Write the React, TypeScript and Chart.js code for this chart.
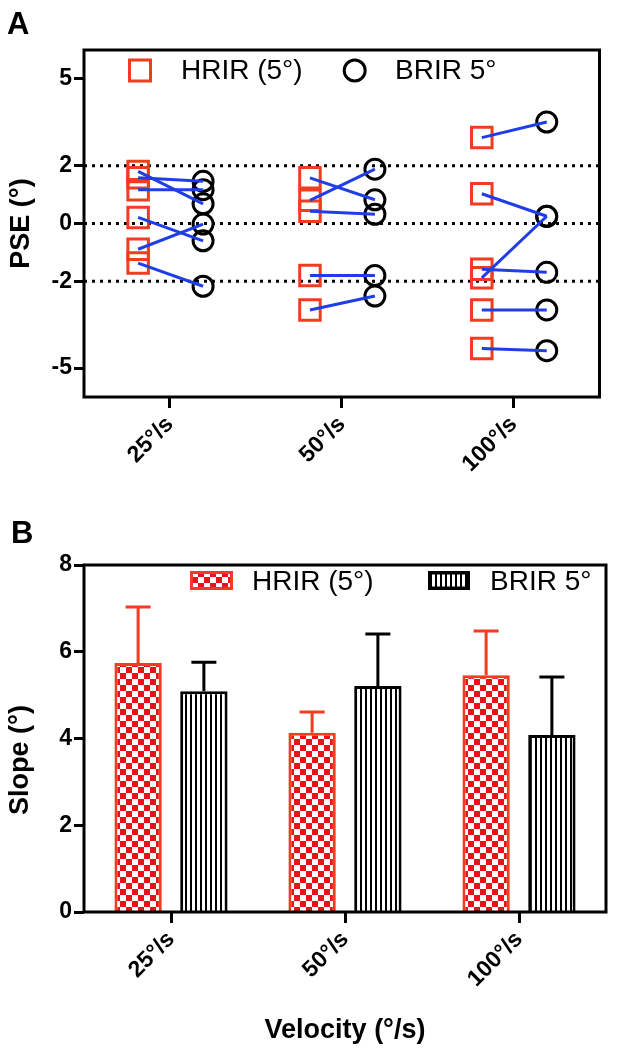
import React, { useEffect, useRef } from "react";
import { Chart, registerables } from "chart.js";

Chart.register(...registerables);

const FONT = "'Liberation Sans', Arial, Helvetica, sans-serif";
const RED = "#f23c1f";
const CHECK_RED = "#e81219";
const BLUE = "#1f3ee8";
const BLACK = "#000000";

// ---------- shared ----------
const categories = ["25°/s", "50°/s", "100°/s"];
const seriesNames = ["HRIR (5°)", "BRIR 5°"];

// ---------- Panel A: paired PSE values (HRIR -> BRIR) ----------
const pse25HRIR = [1.8, 1.58, 1.17, 0.21, -0.89, -1.37];
const pse25BRIR = [0.68, 1.46, 1.17, -0.6, -0.02, -2.17];
const pse50HRIR = [1.58, 0.8, 0.42, -1.8, -2.99];
const pse50BRIR = [0.82, 1.88, 0.32, -1.8, -2.51];
const pse100HRIR = [2.97, 1.03, -1.88, -1.58, -2.99, -4.32];
const pse100BRIR = [3.51, 0.25, 0.25, -1.69, -2.99, -4.4];
const pseTicks = [5, 2, 0, -2, -5];
const pseRefLines = [2, 0, -2];

// ---------- Panel B: slope means and upper error ----------
const slopeHRIR = [5.74, 4.13, 5.46];
const slopeHRIRErr = [1.29, 0.48, 1.02];
const slopeBRIR = [5.09, 5.21, 4.08];
const slopeBRIRErr = [0.67, 1.2, 1.34];
const slopeTicks = [0, 2, 4, 6, 8];

const HRIR_OFF = -0.185;
const BRIR_OFF = 0.193;

const W = 617;
const HA = 505;
const HB = 547;

function makeChecker(): CanvasPattern | string {
  const c = document.createElement("canvas");
  c.width = 12;
  c.height = 12;
  const g = c.getContext("2d");
  if (!g) return CHECK_RED;
  g.fillStyle = "#ffffff";
  g.fillRect(0, 0, 12, 12);
  g.fillStyle = CHECK_RED;
  g.fillRect(0, 0, 6, 6);
  g.fillRect(6, 6, 6, 6);
  return g.createPattern(c, "repeat") || CHECK_RED;
}

function makeStripes(): CanvasPattern | string {
  const c = document.createElement("canvas");
  c.width = 5;
  c.height = 5;
  const g = c.getContext("2d");
  if (!g) return "#888";
  g.fillStyle = "#ffffff";
  g.fillRect(0, 0, 5, 5);
  g.fillStyle = BLACK;
  g.fillRect(0, 0, 2, 5);
  return g.createPattern(c, "repeat") || "#888";
}

const framePlugin = {
  id: "frameBox",
  afterDatasetsDraw(chart: any) {
    const { ctx, chartArea: a } = chart;
    ctx.save();
    ctx.strokeStyle = BLACK;
    ctx.lineWidth = 3;
    ctx.strokeRect(a.left, a.top, a.right - a.left, a.bottom - a.top);
    ctx.restore();
  },
};

function panelLetter(letter: string, x: number, y: number) {
  return {
    id: "panelLetter" + letter,
    afterDraw(chart: any) {
      const ctx = chart.ctx;
      ctx.save();
      ctx.fillStyle = BLACK;
      ctx.font = `bold 31px ${FONT}`;
      ctx.textBaseline = "alphabetic";
      ctx.textAlign = "left";
      ctx.fillText(letter, x, y);
      ctx.restore();
    },
  };
}

export default function App() {
  const refA = useRef<HTMLCanvasElement | null>(null);
  const refB = useRef<HTMLCanvasElement | null>(null);

  useEffect(() => {
    const tickFont = { family: FONT, size: 23, weight: "bold" as const };
    const titleFont = { family: FONT, size: 27, weight: "bold" as const };

    // ---------------- Panel A ----------------
    const groupsH = [pse25HRIR, pse50HRIR, pse100HRIR];
    const groupsB = [pse25BRIR, pse50BRIR, pse100BRIR];

    const pairSets: any[] = [];
    groupsH.forEach((hs, gi) =>
      hs.forEach((h, k) =>
        pairSets.push({
          type: "line",
          data: [
            { x: gi + HRIR_OFF, y: h },
            { x: gi + BRIR_OFF, y: groupsB[gi][k] },
          ],
          borderColor: BLUE,
          borderWidth: 3,
          pointRadius: 0,
          fill: false,
          order: 0,
        })
      )
    );

    const refSets = pseRefLines.map((v) => ({
      type: "line",
      data: [
        { x: -0.5, y: v },
        { x: 2.5, y: v },
      ],
      borderColor: BLACK,
      borderWidth: 3,
      borderDash: [3, 5],
      pointRadius: 0,
      fill: false,
      order: 2,
    }));

    const hrirPts = {
      type: "scatter",
      label: seriesNames[0],
      data: groupsH.flatMap((hs, gi) => hs.map((h) => ({ x: gi + HRIR_OFF, y: h }))),
      pointStyle: "rect",
      pointRadius: 14.5,
      borderColor: RED,
      pointBorderColor: RED,
      backgroundColor: "rgba(0,0,0,0)",
      pointBackgroundColor: "rgba(0,0,0,0)",
      borderWidth: 3,
      pointBorderWidth: 3,
      order: 1,
    };
    const brirPts = {
      type: "scatter",
      label: seriesNames[1],
      data: groupsB.flatMap((bs, gi) => bs.map((b) => ({ x: gi + BRIR_OFF, y: b }))),
      pointStyle: "circle",
      pointRadius: 10,
      borderColor: BLACK,
      pointBorderColor: BLACK,
      backgroundColor: "rgba(0,0,0,0)",
      pointBackgroundColor: "rgba(0,0,0,0)",
      borderWidth: 3,
      pointBorderWidth: 3,
      order: 1,
    };

    const legendA = {
      id: "legendA",
      afterDraw(chart: any) {
        const ctx = chart.ctx;
        ctx.save();
        ctx.lineWidth = 3;
        ctx.strokeStyle = RED;
        ctx.strokeRect(140 - 10.5, 70.5 - 10.5, 21, 21);
        ctx.strokeStyle = BLACK;
        ctx.beginPath();
        ctx.arc(354.7, 70.5, 10.5, 0, Math.PI * 2);
        ctx.stroke();
        ctx.fillStyle = BLACK;
        ctx.font = `28px ${FONT}`;
        ctx.textBaseline = "middle";
        ctx.textAlign = "left";
        ctx.fillText(seriesNames[0], 181, 71);
        ctx.fillText(seriesNames[1], 395, 71);
        ctx.restore();
      },
    };

    const chartA = new Chart(refA.current as HTMLCanvasElement, {
      type: "scatter",
      data: { datasets: [...pairSets, hrirPts, brirPts, ...refSets] as any },
      options: {
        responsive: false,
        animation: false,
        devicePixelRatio: 1,
        events: [],
        layout: { padding: { left: 0, right: 11, top: 50, bottom: 0 } },
        plugins: { legend: { display: false }, tooltip: { enabled: false } },
        scales: {
          x: {
            type: "linear",
            min: -0.5,
            max: 2.5,
            afterBuildTicks: (s: any) => {
              s.ticks = categories.map((_, i) => ({ value: i }));
            },
            afterFit: (s: any) => {
              s.height = HA - 397;
            },
            ticks: {
              callback: (v: any) => categories[v] ?? "",
              font: tickFont,
              color: BLACK,
              minRotation: 45,
              maxRotation: 45,
              autoSkip: false,
              padding: 3,
            },
            grid: {
              drawOnChartArea: false,
              drawTicks: true,
              tickLength: 11,
              tickWidth: 3,
              tickColor: BLACK,
            },
            border: { display: false },
          },
          y: {
            type: "linear",
            min: -6,
            max: 6,
            afterBuildTicks: (s: any) => {
              s.ticks = pseTicks.map((v) => ({ value: v }));
            },
            afterFit: (s: any) => {
              s.width = 84;
            },
            ticks: { font: tickFont, color: BLACK, padding: 2 },
            grid: {
              drawOnChartArea: false,
              drawTicks: true,
              tickLength: 10,
              tickWidth: 3,
              tickColor: BLACK,
            },
            border: { display: false },
            title: {
              display: true,
              text: "PSE (°)",
              font: titleFont,
              color: BLACK,
              padding: { top: 5, bottom: 0 },
            },
          },
        },
      } as any,
      plugins: [framePlugin, legendA, panelLetter("A", 7, 34)],
    });

    // ---------------- Panel B ----------------
    const checker = makeChecker();
    const stripes = makeStripes();
    const errs = [slopeHRIRErr, slopeBRIRErr];

    const errorBars = {
      id: "errorBars",
      afterDatasetsDraw(chart: any) {
        const ctx = chart.ctx;
        const yScale = chart.scales.y;
        ctx.save();
        ctx.lineWidth = 3;
        chart.data.datasets.forEach((ds: any, di: number) => {
          const meta = chart.getDatasetMeta(di);
          ctx.strokeStyle = ds.borderColor;
          meta.data.forEach((el: any, i: number) => {
            const v = ds.data[i];
            const top = yScale.getPixelForValue(v + errs[di][i]);
            ctx.beginPath();
            ctx.moveTo(el.x, el.y);
            ctx.lineTo(el.x, top);
            ctx.moveTo(el.x - 12.5, top);
            ctx.lineTo(el.x + 12.5, top);
            ctx.stroke();
          });
        });
        ctx.restore();
      },
    };

    const legendB = {
      id: "legendB",
      afterDraw(chart: any) {
        const ctx = chart.ctx;
        ctx.save();
        const sy = 66;
        const sh = 19;
        ctx.fillStyle = checker;
        ctx.fillRect(190, sy, 43, sh);
        ctx.strokeStyle = RED;
        ctx.lineWidth = 3;
        ctx.strokeRect(191.5, sy + 1.5, 40, sh - 3);
        ctx.fillStyle = stripes;
        ctx.fillRect(428, sy, 42, sh);
        ctx.strokeStyle = BLACK;
        ctx.lineWidth = 3.5;
        ctx.strokeRect(429.75, sy + 1.75, 38.5, sh - 3.5);
        ctx.fillStyle = BLACK;
        ctx.font = `28px ${FONT}`;
        ctx.textBaseline = "middle";
        ctx.textAlign = "left";
        ctx.fillText(seriesNames[0], 252, 77.5);
        ctx.fillText(seriesNames[1], 490, 77.5);
        // y-axis title
        ctx.save();
        ctx.translate(21, 760 - 505);
        ctx.rotate(-Math.PI / 2);
        ctx.font = `bold 27px ${FONT}`;
        ctx.textAlign = "center";
        ctx.textBaseline = "middle";
        ctx.fillText("Slope (°)", 0, 0);
        ctx.restore();
        ctx.restore();
      },
    };

    const chartB = new Chart(refB.current as HTMLCanvasElement, {
      type: "bar",
      data: {
        labels: categories,
        datasets: [
          {
            label: seriesNames[0],
            data: slopeHRIR,
            backgroundColor: checker as any,
            borderColor: RED,
            borderWidth: 3,
            categoryPercentage: 0.756,
            barPercentage: 0.72,
          },
          {
            label: seriesNames[1],
            data: slopeBRIR,
            backgroundColor: stripes as any,
            borderColor: BLACK,
            borderWidth: 3,
            categoryPercentage: 0.756,
            barPercentage: 0.72,
          },
        ],
      },
      options: {
        responsive: false,
        animation: false,
        devicePixelRatio: 1,
        events: [],
        layout: { padding: { left: 0, right: 11, top: 60, bottom: 0 } },
        plugins: { legend: { display: false }, tooltip: { enabled: false } },
        scales: {
          x: {
            type: "category",
            afterFit: (s: any) => {
              s.height = HB - 407;
            },
            ticks: {
              font: tickFont,
              color: BLACK,
              minRotation: 45,
              maxRotation: 45,
              autoSkip: false,
              padding: 3,
            },
            grid: {
              offset: false,
              drawOnChartArea: false,
              drawTicks: true,
              tickLength: 11,
              tickWidth: 3,
              tickColor: BLACK,
            },
            border: { display: false },
            title: {
              display: true,
              text: "Velocity (°/s)",
              font: titleFont,
              color: BLACK,
              padding: { top: 0, bottom: 5 },
            },
          },
          y: {
            type: "linear",
            min: 0,
            max: 8,
            afterBuildTicks: (s: any) => {
              s.ticks = slopeTicks.map((v) => ({ value: v }));
            },
            afterFit: (s: any) => {
              s.width = 84;
            },
            ticks: { font: tickFont, color: BLACK, padding: 2 },
            grid: {
              drawOnChartArea: false,
              drawTicks: true,
              tickLength: 10,
              tickWidth: 3,
              tickColor: BLACK,
            },
            border: { display: false },
          },
        },
      } as any,
      plugins: [errorBars, framePlugin, legendB, panelLetter("B", 11, 38)],
    });

    return () => {
      chartA.destroy();
      chartB.destroy();
    };
  }, []);

  return (
    <div
      style={{
        position: "absolute",
        left: 0,
        top: 0,
        width: W,
        height: HA + HB,
        background: "#ffffff",
      }}
    >
      <canvas
        ref={refA}
        width={W}
        height={HA}
        style={{ position: "absolute", left: 0, top: 0 }}
      />
      <canvas
        ref={refB}
        width={W}
        height={HB}
        style={{ position: "absolute", left: 0, top: HA }}
      />
    </div>
  );
}
